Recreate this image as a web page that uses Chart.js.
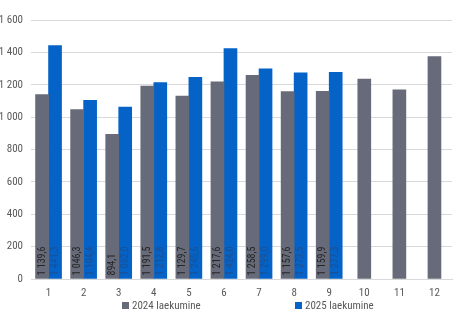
<!DOCTYPE html>
<html>
<head>
<meta charset="utf-8">
<script src="https://cdn.jsdelivr.net/npm/chart.js@4"></script>
<style>
  html, body { margin: 0; padding: 0; background: #fff; }
  #wrap { position: relative; width: 458px; height: 336px; }
  .leg { position: absolute; top: 299px; font: 11px 'Liberation Sans Narrow', 'Roboto Condensed', Roboto, sans-serif; color: #595959; white-space: nowrap; }
  .leg i { display: inline-block; width: 7px; height: 7px; margin-right: 3px; vertical-align: 0px; }
</style>
</head>
<body>
<div id="wrap">
  <canvas id="revenueChart" width="458" height="336"></canvas>
  <div class="leg" style="left:122px"><i style="background:#676a78"></i>2024 laekumine</div>
  <div class="leg" style="left:295px"><i style="background:#0563c8"></i>2025 laekumine</div>
</div>
<script>
const months = ["1", "2", "3", "4", "5", "6", "7", "8", "9", "10", "11", "12"];
const revenue2024 = [1139.6, 1046.3, 894.1, 1191.5, 1129.7, 1217.6, 1258.5, 1157.6, 1159.9, 1235, 1169, 1374];
const revenue2025 = [1441.3, 1104.4, 1062.0, 1212.8, 1245.6, 1424.0, 1299.0, 1273.5, 1277.3, null, null, null];
const labelled2024 = 9; // only first 9 months carry value labels

const fontFamily = "'Liberation Sans Narrow', 'Roboto Condensed', Roboto, sans-serif";

// number like 1 139,6
const fmt = (v, dec) => {
  let s = v.toFixed(dec).replace(".", ",");
  let parts = s.split(",");
  parts[0] = parts[0].replace(/\B(?=(\d{3})+(?!\d))/g, " ");
  return parts.join(",");
};

// draws the rotated value labels inside the bars
const barLabels = {
  id: "barLabels",
  afterDatasetsDraw(chart) {
    const ctx = chart.ctx;
    chart.data.datasets.forEach((ds, di) => {
      const meta = chart.getDatasetMeta(di);
      meta.data.forEach((bar, i) => {
        const v = ds.data[i];
        if (v == null) return;
        if (di === 0 && i >= labelled2024) return;
        ctx.save();
        ctx.translate(bar.x, bar.base - 3);
        ctx.rotate(-Math.PI / 2);
        ctx.font = "10px " + fontFamily;
        ctx.fillStyle = di === 0 ? "#262626" : "#1d4f8f";
        ctx.textAlign = "left";
        ctx.textBaseline = "middle";
        ctx.fillText(fmt(v, 1), 0, 0);
        ctx.restore();
      });
    });
  }
};

new Chart(document.getElementById("revenueChart"), {
  type: "bar",
  data: {
    labels: months,
    datasets: [
      { label: "2024 laekumine", data: revenue2024, backgroundColor: "#676a78", borderWidth: 0 },
      { label: "2025 laekumine", data: revenue2025, backgroundColor: "#0563c8", borderWidth: 0 }
    ]
  },
  options: {
    responsive: false,
    animation: false,
    layout: { padding: { top: 20, right: 6, left: 0, bottom: 0 } },
    datasets: { bar: { barThickness: 13, skipNull: true } },
    plugins: { legend: { display: false }, tooltip: { enabled: false } },
    scales: {
      x: {
        grid: { display: false, drawTicks: false },
        border: { color: "#d9d9d9" },
        ticks: { color: "#595959", padding: 8, font: { family: fontFamily, size: 11 } },
        afterFit: (scale) => { scale.height = 57; }
      },
      y: {
        min: 0,
        max: 1600,
        grid: { color: "#d9d9d9", drawTicks: false },
        border: { display: false },
        ticks: {
          stepSize: 200,
          padding: 8,
          color: "#595959",
          font: { family: fontFamily, size: 11 },
          callback: (v) => fmt(v, 0)
        },
        afterFit: (scale) => { scale.width = 31; }
      }
    }
  },
  plugins: [barLabels]
});
</script>
</body>
</html>
